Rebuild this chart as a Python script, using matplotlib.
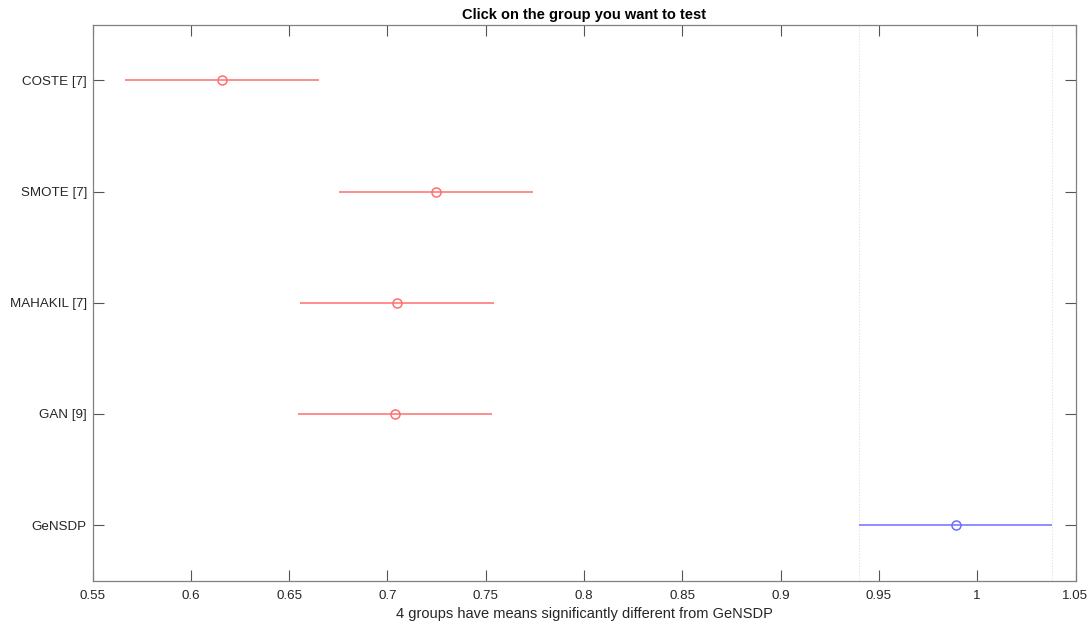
import matplotlib
matplotlib.use("Agg")
import matplotlib.pyplot as plt

groups = ["COSTE [7]", "SMOTE [7]", "MAHAKIL [7]", "GAN [9]", "GeNSDP"]
means = [0.616, 0.7247, 0.7049, 0.7039, 0.989]
half_widths = [0.0493, 0.0493, 0.0493, 0.0493, 0.0493]
colors = ["#ff6f6f", "#ff6f6f", "#ff6f6f", "#ff6f6f", "#6f6fff"]
xticks = [0.55, 0.6, 0.65, 0.7, 0.75, 0.8, 0.85, 0.9, 0.95, 1.0, 1.05]
xticklabels = ["0.55", "0.6", "0.65", "0.7", "0.75", "0.8", "0.85", "0.9", "0.95", "1", "1.05"]

plt.rcParams['font.family'] = ['Liberation Sans', 'DejaVu Sans']
fig = plt.figure(figsize=(10.92, 6.28), dpi=100)
ax = fig.add_axes([92.5/1092, 1 - 580.7/628, (1075.5-92.5)/1092, (580.7-24.7)/628])

n = len(groups)
ypos = list(range(n, 0, -1))
for y, m, h, c in zip(ypos, means, half_widths, colors):
    ax.plot([m - h, m + h], [y, y], color=c, lw=1.1, solid_capstyle='butt')
    ax.plot([m], [y], marker='o', ms=6.5, mfc='none', mec=c, mew=1.1)

# reference group interval lines
ref_m, ref_h = means[-1], half_widths[-1]
for xv in (ref_m - ref_h, ref_m + ref_h):
    ax.axvline(xv, color='#e0e0e0', lw=0.8, ls=':', zorder=0)

ax.set_xlim(0.55, 1.05)
ax.set_ylim(0.5, n + 0.5)
ax.set_xticks(xticks)
ax.set_xticklabels(xticklabels)
ax.set_yticks(ypos)
ax.set_yticklabels(groups)
tc = '#262626'
ax.tick_params(direction='in', length=8, width=0.8, color='#555555', labelcolor=tc,
               labelsize=9.6, top=True, right=True)
ax.tick_params(axis='y', pad=4)
ax.tick_params(axis='x', pad=7)
for s in ax.spines.values():
    s.set_color('#808080')
    s.set_linewidth(0.9)
ax.set_title("Click on the group you want to test", fontsize=10.5, fontweight='bold', color='black', pad=4)
ax.set_xlabel("4 groups have means significantly different from GeNSDP", fontsize=10.5, color=tc, labelpad=3)

fig.savefig("out.png", dpi=100)
